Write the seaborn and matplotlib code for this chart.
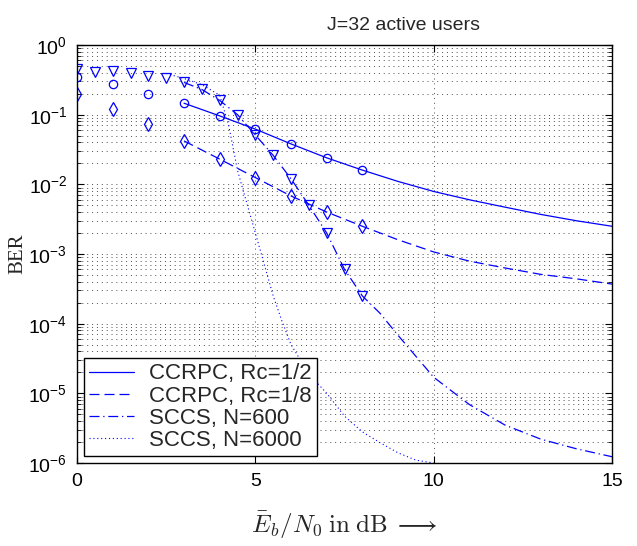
import numpy as np
import matplotlib
matplotlib.use('Agg')
import matplotlib.pyplot as plt
import seaborn as sns
from matplotlib.ticker import LogLocator, NullFormatter

# simulation points (markers)
snr_sim = [0, 1, 2, 3, 4, 5, 6, 7, 8]
ber_rc12_sim = [0.35, 0.28, 0.20, 0.146, 0.096, 0.062, 0.038, 0.024, 0.016]
ber_rc18_sim = [0.195, 0.12, 0.074, 0.042, 0.023, 0.0125, 0.0068, 0.004, 0.0025]
snr_sccs_sim = [0, 0.5, 1, 1.5, 2, 2.5, 3, 3.5, 4, 4.5, 5, 5.5, 6, 6.5, 7, 7.5, 8]
ber_n600_sim = [0.45, 0.41, 0.42, 0.39, 0.36, 0.34, 0.29, 0.23, 0.16, 0.10,
                0.051, 0.026, 0.012, 0.005, 0.002, 6.0e-4, 2.5e-4]

# analytical curves (lines)
snr_ccrpc = [3, 4, 5, 6, 7, 8, 9, 10, 11, 12, 13, 14, 15]
ber_rc12 = [0.146, 0.096, 0.062, 0.038, 0.024, 0.016, 0.011, 0.0079, 0.006,
            0.0047, 0.0037, 0.003, 0.0025]
ber_rc18 = [0.042, 0.023, 0.0125, 0.0068, 0.004, 0.0025, 0.0016, 0.00107,
            0.00079, 0.00063, 0.00051, 0.00044, 0.00037]
snr_n600 = [3, 3.5, 4, 4.5, 5, 5.5, 6, 6.5, 7, 7.5, 8, 8.5, 9, 9.5, 10,
            11, 12, 13, 14, 15]
ber_n600 = [0.29, 0.23, 0.16, 0.10, 0.051, 0.026, 0.012, 0.005, 0.002, 6.0e-4,
            2.5e-4, 1.4e-4, 6.8e-5, 3.4e-5, 1.7e-5, 6.9e-6, 3.5e-6, 2.2e-6,
            1.6e-6, 1.23e-6]
snr_n6000 = [2.5, 3, 3.5, 4, 4.25, 4.5, 4.75, 5, 5.25, 5.5, 5.75, 6, 6.5, 7,
             7.5, 8, 8.5, 9, 9.5, 10]
ber_n6000 = [0.39, 0.33, 0.27, 0.19, 0.071, 0.0158, 5.6e-3, 2.0e-3, 7.1e-4,
             2.5e-4, 1.07e-4, 5.0e-5, 1.9e-5, 1.0e-5, 4.7e-6, 2.8e-6, 1.95e-6,
             1.4e-6, 1.1e-6, 1.0e-6]

sns.set_style('ticks')
plt.rcParams['font.family'] = ['Liberation Sans', 'DejaVu Sans']

fig = plt.figure(figsize=(6.37, 5.46), dpi=100)
ax = fig.add_axes([0.1209, 0.152, 0.840, 0.7656])

blue = '#0000FF'
lw = 0.9
sns.lineplot(x=snr_ccrpc, y=ber_rc12, color=blue, linewidth=lw, linestyle='-',
             label='CCRPC, Rc=1/2', ax=ax)
sns.lineplot(x=snr_ccrpc, y=ber_rc18, color=blue, linewidth=lw,
             linestyle=(0, (8, 4)), label='CCRPC, Rc=1/8', ax=ax)
sns.lineplot(x=snr_n600, y=ber_n600, color=blue, linewidth=lw,
             linestyle=(0, (8, 3, 1, 3)), label='SCCS, N=600', ax=ax)
sns.lineplot(x=snr_n6000, y=ber_n6000, color=blue, linewidth=0.8,
             linestyle=(0, (1, 2.5)), label='SCCS, N=6000', ax=ax)

# markers
sns.lineplot(x=snr_sim, y=ber_rc12_sim, color=blue, linestyle='none', marker='o',
             ms=6, mfc='none', mec=blue, mew=0.9, label='_nolegend_', ax=ax)
sns.lineplot(x=snr_sim, y=ber_rc18_sim, color=blue, linestyle='none', marker='d',
             ms=7, mfc='none', mec=blue, mew=0.9, label='_nolegend_', ax=ax)
sns.lineplot(x=snr_sccs_sim, y=ber_n600_sim, color=blue, linestyle='none', marker='v',
             ms=6.5, mfc='none', mec=blue, mew=0.9, label='_nolegend_', ax=ax)

ax.set_yscale('log')
ax.set_xlim(0, 15)
ax.set_ylim(1e-6, 1)
ax.set_xticks([0, 5, 10, 15])
ax.yaxis.set_major_locator(LogLocator(base=10, numticks=10))
ax.yaxis.set_minor_locator(LogLocator(base=10, subs=np.arange(2, 10), numticks=20))
ax.yaxis.set_minor_formatter(NullFormatter())

grid_style = dict(color='0.3', linestyle=(0, (1, 4)), linewidth=0.7)
ax.grid(True, which='major', axis='both', **grid_style)
ax.grid(True, which='minor', axis='y', **grid_style)

ax.tick_params(which='both', direction='in', top=True, right=True,
               colors='black', labelsize=14, pad=7)
ax.tick_params(which='major', length=5, width=0.8)
ax.tick_params(which='minor', length=3, width=0.6)
for sp in ax.spines.values():
    sp.set_color('black')
    sp.set_linewidth(1.0)

ax.set_title('J=32 active users', fontsize=14, pad=11, x=0.61)
ax.set_xlabel(r'$\bar{E}_b/N_0\;\mathrm{in\;dB}\;\longrightarrow$',
              math_fontfamily='cm', fontsize=18, labelpad=14)
ax.set_ylabel('BER', family='Liberation Serif', fontsize=15)
ax.yaxis.set_label_coords(-0.092, 0.5)

leg = ax.legend(loc='lower left', fontsize=16, fancybox=False, framealpha=1,
                edgecolor='black', borderaxespad=0.3, labelspacing=0.05,
                handlelength=2.0, borderpad=0.25, handletextpad=0.7)
leg.get_frame().set_linewidth(1.0)

fig.savefig('out.png', dpi=100)
